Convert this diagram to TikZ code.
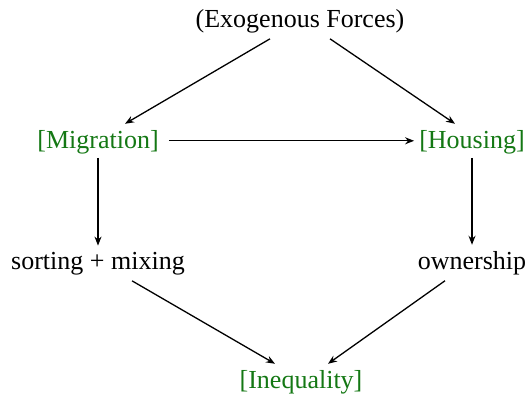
\documentclass[tikz,border=0pt]{standalone}
\usepackage{fontspec}
\setmainfont{Liberation Serif}
\usetikzlibrary{arrows.meta}
\definecolor{labgreen}{RGB}{20,120,20}
\begin{document}
\begin{tikzpicture}[x=1bp,y=-1bp,
  lab/.style={font=\fontsize{26bp}{30bp}\selectfont, inner sep=0pt, anchor=base},
  grn/.style={lab, text=labgreen},
  conn/.style={draw=black, line width=1.3bp, -{Stealth[length=9bp,width=7bp]}}]
\useasboundingbox (0,0) rectangle (532,393);
\node[lab] (exo) at (300,27) {(Exogenous Forces)};
\node[grn] (mig) at (98,148) {[Migration]};
\node[grn] (hou) at (472,148) {[Housing]};
\node[lab] (sor) at (98,269) {sorting + mixing};
\node[lab] (own) at (472,269) {ownership};
\node[grn] (ine) at (301,388) {[Inequality]};
\draw[conn] ([xshift=-30bp,yshift=-6bp]exo.south) -- ([xshift=27bp,yshift=6bp]mig.north);
\draw[conn] ([xshift=30bp,yshift=-6bp]exo.south) -- ([xshift=-17bp,yshift=6bp]hou.north);
\draw[conn] ([xshift=10bp,yshift=1bp]mig.east) -- ([xshift=-5bp,yshift=1bp]hou.west);
\draw[conn] ([yshift=-4bp]mig.south) -- ([yshift=6bp]sor.north);
\draw[conn] ([yshift=-4bp]hou.south) -- ([yshift=6bp]own.north);
\draw[conn] ([xshift=34bp,yshift=-6bp]sor.south) -- ([xshift=-26bp,yshift=6bp]ine.north);
\draw[conn] ([xshift=-27bp,yshift=-6bp]own.south) -- ([xshift=27bp,yshift=6bp]ine.north);
\end{tikzpicture}
\end{document}
